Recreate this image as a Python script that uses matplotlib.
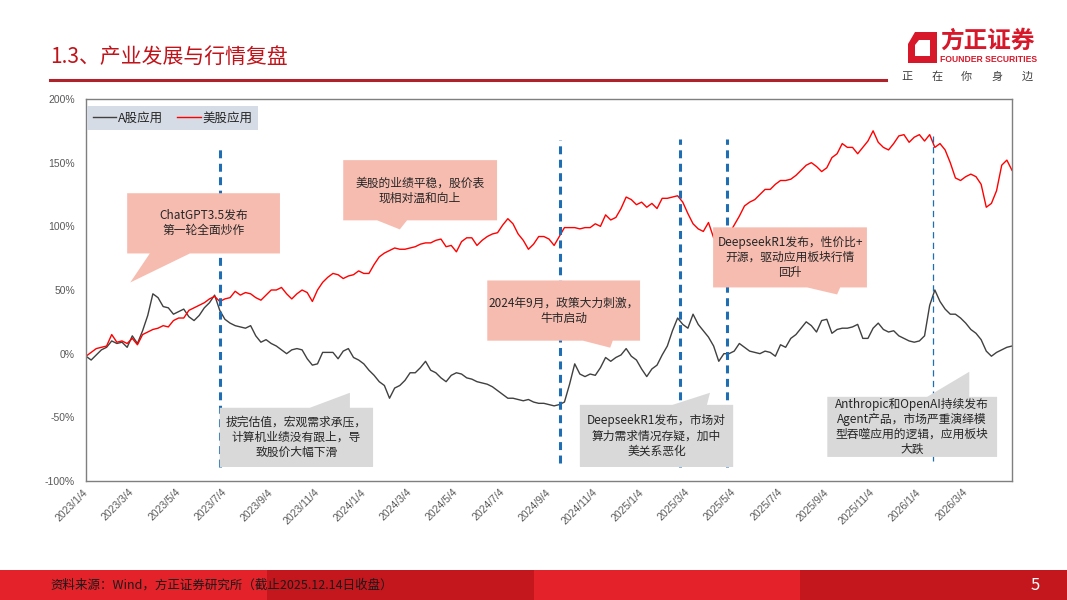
import matplotlib
matplotlib.use('Agg')
import matplotlib.pyplot as plt
import numpy as np
from matplotlib.patches import Polygon, Rectangle
from matplotlib.lines import Line2D
from matplotlib.ticker import FuncFormatter

plt.rcParams['font.family'] = ['Noto Sans CJK SC', 'DejaVu Sans']

# x 轴标签（每 9 个点一个）
date_labels = ['2023/1/4', '2023/3/4', '2023/5/4', '2023/7/4', '2023/9/4', '2023/11/4',
               '2024/1/4', '2024/3/4', '2024/5/4', '2024/7/4', '2024/9/4', '2024/11/4',
               '2025/1/4', '2025/3/4', '2025/5/4', '2025/7/4', '2025/9/4', '2025/11/4',
               '2026/1/4', '2026/3/4']

# A股应用 累计涨跌幅(%)
a_share = [-2, -5, -1, 3, 5, 10, 8, 9, 5, 14,
           8, 18, 30, 47, 44, 37, 36, 31, 33, 35,
           29, 26, 30, 36, 40, 46, 34, 27, 24, 22,
           21, 20, 22, 14, 9, 11, 8, 6, 3, 0,
           3, 4, 3, -4, -9, -8, 1, 1, 1, -4,
           2, 4, -3, -5, -8, -13, -17, -22, -25, -35,
           -27, -25, -21, -15, -15, -11, -6, -13, -15, -19,
           -22, -17, -15, -16, -19, -20, -22, -23, -24, -26,
           -29, -32, -35, -35, -36, -37, -36, -38, -39, -39,
           -40, -41, -40, -38, -24, -8, -16, -18, -16, -17,
           -11, -3, -6, -3, -1, 4, -2, -5, -12, -18,
           -12, -9, -1, 6, 18, 28, 23, 20, 31, 23,
           18, 13, 6, -6, 0, 0, 2, 8, 5, 2,
           1, 0, 2, 1, -2, 7, 5, 12, 15, 20,
           25, 22, 17, 26, 27, 16, 19, 20, 20, 21,
           23, 12, 12, 20, 24, 19, 17, 18, 14, 12,
           10, 9, 10, 14, 38, 50, 41, 35, 31, 31,
           28, 24, 19, 16, 11, 2, -2, 1, 3, 5,
           6]

# 美股应用 累计涨跌幅(%)
us_share = [-2, 1, 4, 5, 6, 15, 9, 10, 8, 12,
            7, 15, 17, 19, 20, 22, 21, 26, 28, 28,
            34, 36, 38, 40, 43, 45, 41, 43, 44, 49,
            46, 48, 47, 44, 42, 46, 50, 50, 52, 47,
            43, 47, 50, 48, 41, 50, 56, 60, 63, 62,
            59, 61, 62, 65, 63, 63, 70, 76, 79, 81,
            83, 82, 82, 83, 84, 86, 87, 87, 89, 90,
            84, 85, 80, 88, 91, 91, 85, 89, 92, 94,
            95, 101, 106, 102, 94, 89, 82, 86, 92, 92,
            90, 85, 92, 99, 99, 99, 98, 99, 99, 102,
            100, 109, 105, 107, 114, 123, 121, 117, 119, 115,
            118, 114, 122, 122, 123, 124, 119, 110, 102, 98,
            96, 103, 91, 90, 88, 94, 101, 108, 116, 119,
            121, 125, 129, 129, 133, 136, 136, 137, 140, 144,
            148, 150, 147, 143, 146, 154, 157, 165, 162, 162,
            157, 162, 167, 175, 166, 162, 160, 165, 171, 172,
            166, 170, 172, 167, 172, 162, 165, 160, 150, 138,
            136, 139, 141, 139, 133, 115, 118, 128, 148, 152,
            144]

# 事件竖线: (位置, 下端, 上端, 粗线?)
event_lines = [(26, -89, 162, True), (92.1, -86, 168, True), (115.5, -89, 168.5, True),
               (124.6, -89, 168.5, True), (164.7, -84, 173, False)]

PINK = '#F7BCB0'
GREY = '#D9D9D9'
# 注释框: x0, x1, y0, y1, 尖角底边, 尖端, 方向, 颜色, 文字
callouts = [
    (8.0, 37.7, 78.7, 126, (12.4, 20.2), (8.6, 55.9), 'bottom', PINK,
     'ChatGPT3.5发布\n第一轮全面炒作'),
    (50.0, 79.9, 104.7, 152, (56.6, 62.4), (61.0, 97.6), 'bottom', PINK,
     '美股的业绩平稳，股价表\n现相对温和向上'),
    (78.0, 107.7, 10.2, 57.5, (96.6, 102.4), (101.9, 4.7), 'bottom', PINK,
     '2024年9月，政策大力刺激，\n牛市启动'),
    (121.9, 151.8, 52.0, 99.2, (140.2, 146.6), (146.0, 46.5), 'bottom', PINK,
     'DeepseekR1发布，性价比+\n开源，驱动应用板块行情\n回升'),
    (26.0, 55.8, -89.0, -42.5, (43.5, 51.3), (51.3, -30.7), 'top', GREY,
     '拔完估值，宏观需求承压，\n计算机业绩没有跟上，导\n致股价大幅下滑'),
    (96.0, 125.8, -89.0, -40.2, (114.0, 120.7), (121.3, -30.7), 'top', GREY,
     'DeepseekR1发布，市场对\n算力需求情况存疑，加中\n美关系恶化'),
    (144.1, 177.1, -81.1, -33.9, (163.5, 171.7), (171.7, -14.2), 'top', GREY,
     'Anthropic和OpenAI持续发布\nAgent产品，市场严重演绎模\n型吞噬应用的逻辑，应用板块\n大跌'),
]

W, H = 1067, 600


def fx(px):
    return px / W


def fy(py):
    return 1 - py / H


fig = plt.figure(figsize=(10.67, 6.0), dpi=100)
fig.patch.set_facecolor('white')

# ---- 页眉 ----
fig.text(fx(50), fy(57), '1.3、产业发展与行情复盘', fontsize=15, color='#C0141B', va='center')
fig.add_artist(Line2D([fx(50), fx(886)], [fy(80), fy(80)], color='#B0222A', lw=2.2))

logo_red = '#D7182A'
outer = [(915, 32), (937, 32), (937, 63), (908, 63), (908, 44)]
inner = [(919, 40), (930, 40), (930, 56), (915, 56), (915, 45)]
fig.add_artist(Polygon([(fx(a), fy(b)) for a, b in outer], closed=True, transform=fig.transFigure,
                       facecolor=logo_red, edgecolor='none'))
fig.add_artist(Polygon([(fx(a), fy(b)) for a, b in inner], closed=True, transform=fig.transFigure,
                       facecolor='white', edgecolor='none'))
fig.text(fx(987), fy(41), '方正证券', fontsize=17, fontweight='bold', color=logo_red,
         ha='center', va='center')
fig.text(fx(989), fy(59.5), 'FOUNDER SECURITIES', fontsize=6.2, fontweight='bold', color=logo_red,
         ha='center', va='center', family=['Liberation Sans Narrow', 'Liberation Sans', 'DejaVu Sans'])
for ch, px in zip('正在你身边', [907, 937, 966, 997, 1027]):
    fig.text(fx(px), fy(76.5), ch, fontsize=8, color='#404040', ha='center', va='center')

# ---- 页脚 ----
for i, c in enumerate(['#E4222A', '#C3161D', '#E4222A', '#C3161D']):
    fig.add_artist(Rectangle((i * 0.25, 0), 0.25, 30 / H, transform=fig.transFigure,
                             facecolor=c, edgecolor='none'))
fig.text(fx(50), fy(585), '资料来源：Wind，方正证券研究所（截止2025.12.14日收盘）',
         fontsize=9, style='italic', color='#1A1A1A', va='center')
fig.text(fx(1035), fy(585), '5', fontsize=12, color='white', ha='center', va='center')

# ---- 主图 ----
ax = fig.add_axes([fx(86), fy(481), (1012 - 86) / W, (481 - 99) / H])
x = np.arange(len(a_share))
ax.plot(x, a_share, color='#404040', lw=1.0, zorder=2)
ax.plot(x, us_share, color='#FF0000', lw=1.0, zorder=2.1)

for xv, lo, hi, thick in event_lines:
    if thick:
        ax.vlines(xv, lo, hi, colors='#1F6DB3', lw=2.2, linestyles=(0, (2.6, 1.8)), zorder=3)
    else:
        ax.vlines(xv, lo, hi, colors='#1F6DB3', lw=0.9, linestyles=(0, (5, 3.5)), zorder=3)

for x0, x1, y0, y1, base, tip, side, color, txt in callouts:
    if side == 'bottom':
        pts = [(x0, y1), (x1, y1), (x1, y0), (base[1], y0), tip, (base[0], y0), (x0, y0)]
    else:
        pts = [(x0, y0), (x1, y0), (x1, y1), (base[1], y1), tip, (base[0], y1), (x0, y1)]
    ax.add_patch(Polygon(pts, closed=True, facecolor=color, edgecolor='none', zorder=4,
                         clip_on=False))
    ax.text((x0 + x1) / 2, (y0 + y1) / 2, txt, ha='center', va='center', fontsize=8.5,
            linespacing=1.2, color='#262626', zorder=5)

ax.set_xlim(0, 180)
ax.set_ylim(-100, 200)
ax.set_yticks(np.arange(-100, 201, 50))
ax.yaxis.set_major_formatter(FuncFormatter(lambda v, p: f'{int(v)}%'))
ax.set_xticks(np.arange(0, 180, 9))
ax.set_xticklabels(date_labels, rotation=45, ha='right', va='center', rotation_mode='anchor')
ax.tick_params(axis='both', length=0, labelsize=7.5, labelcolor='#595959')
ax.tick_params(axis='y', pad=8)
ax.tick_params(axis='x', pad=7)
for lab in ax.get_xticklabels() + ax.get_yticklabels():
    lab.set_family(['Liberation Sans', 'DejaVu Sans'])
for sp in ax.spines.values():
    sp.set_color('#7F7F7F')
    sp.set_linewidth(1.0)

handles = [Line2D([], [], color='#404040', lw=1.0), Line2D([], [], color='#FF0000', lw=1.0)]
leg = ax.legend(handles, ['A股应用', '美股应用'], loc='upper left', bbox_to_anchor=(0.0012, 0.982),
                ncol=2, frameon=True, facecolor='#D6DCE5', edgecolor='none', fancybox=False,
                framealpha=1, fontsize=9, handlelength=1.9, handletextpad=0.15,
                columnspacing=1.1, borderpad=0.45, borderaxespad=0)
for t in leg.get_texts():
    t.set_color('#262626')

fig.savefig('out.png', dpi=100)
